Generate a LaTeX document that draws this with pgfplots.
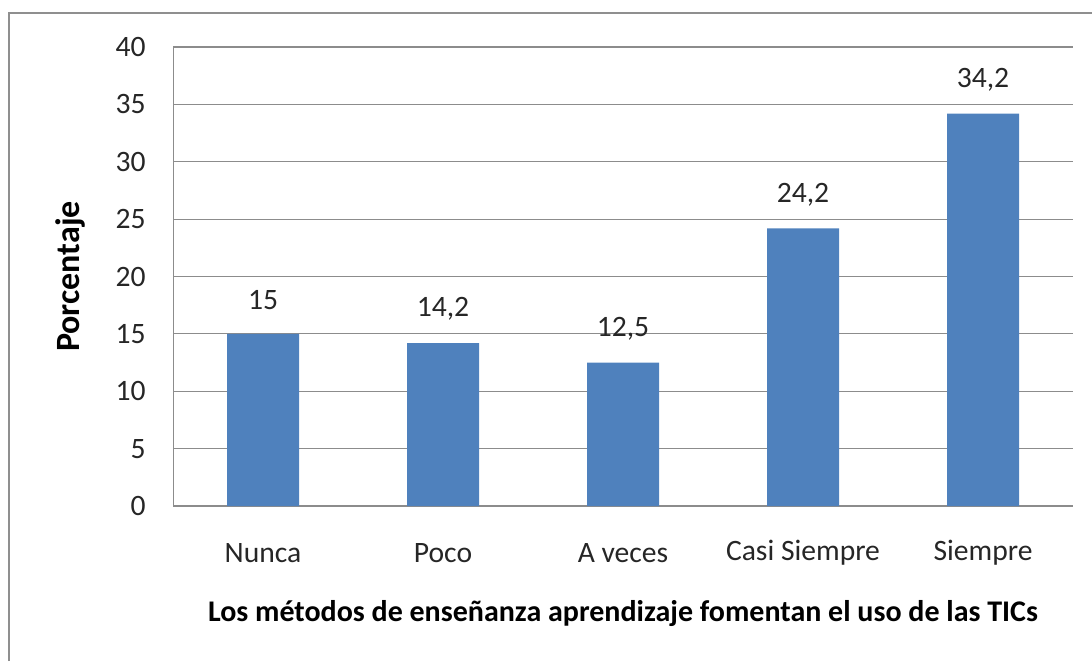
\documentclass[border=0pt]{standalone}
\usepackage{pgfplots}
\pgfplotsset{compat=1.18}
\usepackage{fontspec}
\setmainfont{Carlito}
\definecolor{barblue}{HTML}{4F81BD}
\definecolor{gridgray}{HTML}{8C8C8C}
\definecolor{framegray}{HTML}{8F8F8F}
\begin{document}
\begin{tikzpicture}[x=0.5pt,y=-0.5pt]
    % image area 1092 x 661 px, 1 px = 0.5pt
    \path[use as bounding box] (0,0) rectangle (1092,661);
    \draw[framegray, line width=1pt] (8.5,661) -- (8.5,12.5) -- (1092,12.5);
    \begin{axis}[
        at={(86.5pt,-253pt)}, anchor=south west,
        scale only axis,
        width=450pt, height=229.5pt,
        ybar, bar width=36pt,
        xmin=-0.5, xmax=4.5,
        ymin=0, ymax=40, ytick={0,5,...,40},
        xtick={0,1,2,3,4},
        xticklabels={Nunca, Poco, A veces, Casi Siempre, Siempre},
        major tick length=0pt,
        axis line style={gridgray},
        axis x line*=bottom, axis y line*=left,
        ymajorgrids, grid style={gridgray, line width=0.6pt},
        /pgf/number format/assume math mode=true,
        ticklabel style={font=\fontsize{14.8}{16}\selectfont, text=black!85},
        yticklabel style={anchor=east, inner sep=0pt, xshift=-13.5pt},
        xticklabel style={anchor=center, inner sep=0pt, yshift=-23.5pt},
        nodes near coords,
        nodes near coords style={font=\fontsize{14.8}{16}\selectfont, text=black!85,
            anchor=center, yshift=17pt,
            /pgf/number format/use comma, /pgf/number format/precision=1},
        xlabel={Los métodos de enseñanza aprendizaje fomentan el uso de las TICs},
        xlabel style={at={(axis description cs:0.5,0)}, anchor=center,
            yshift=-53.5pt, font=\bfseries\fontsize{15}{16}\selectfont},
        ylabel={Porcentaje},
        ylabel style={at={(axis description cs:0,0.5)}, anchor=center,
            yshift=51.5pt, font=\bfseries\fontsize{17}{18}\selectfont},
    ]
        \addplot[fill=barblue, draw=none] coordinates {(0,15) (1,14.2) (2,12.5) (3,24.2) (4,34.2)};
    \end{axis}
\end{tikzpicture}
\end{document}
